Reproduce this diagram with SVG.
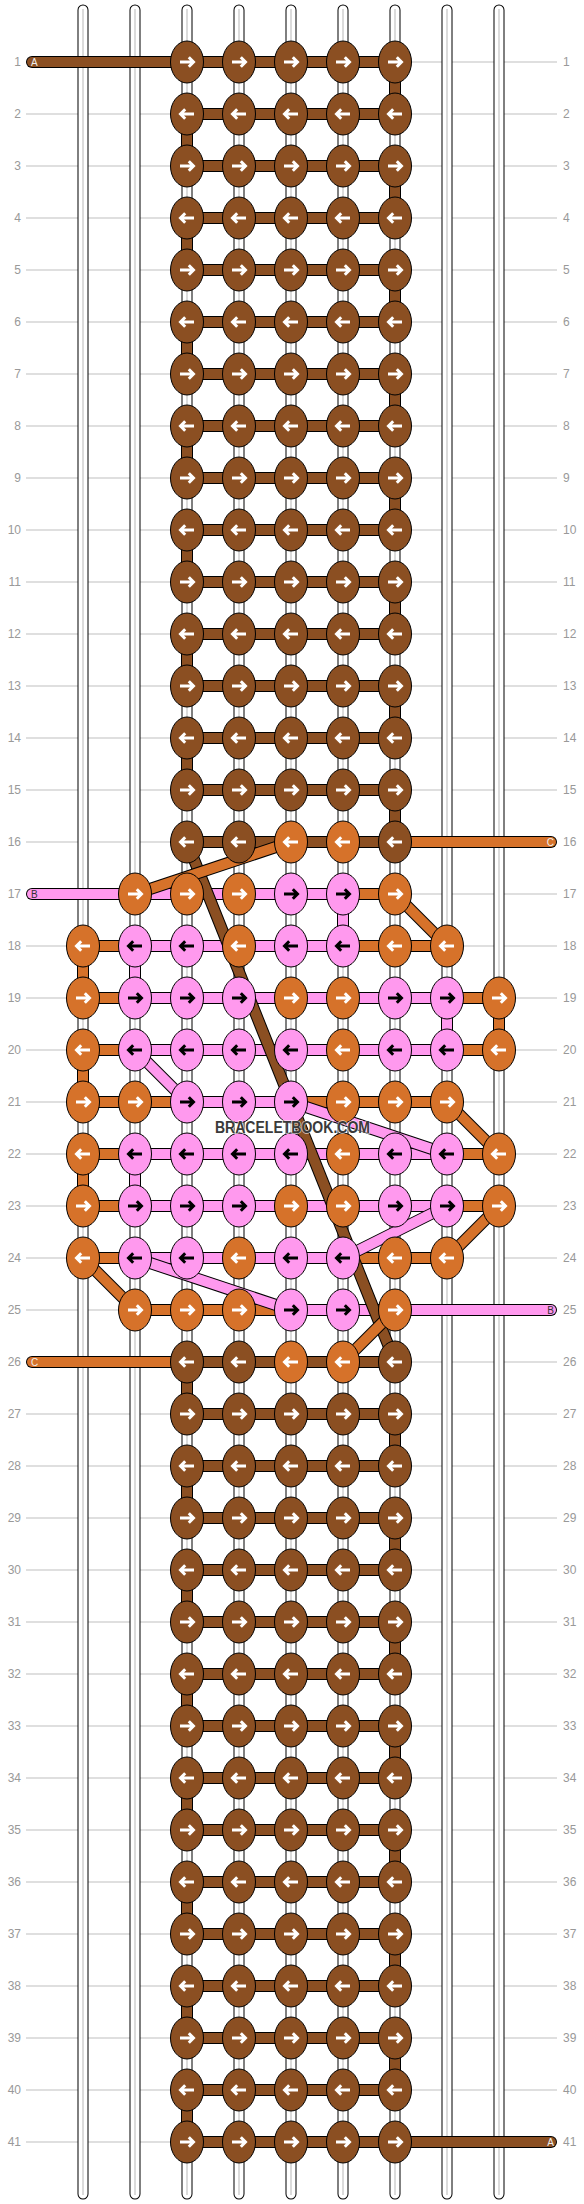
<svg xmlns="http://www.w3.org/2000/svg" width="584" height="2204" viewBox="0 0 584 2204">
<style>
.B{fill:#8b4f22}.O{fill:#d6722a}.P{fill:#ff99ee}
.c{stroke:#000;stroke-width:1}
.aw{fill:none;stroke:#fff;stroke-width:3}
.ak{fill:none;stroke:#000;stroke-width:3}
.num{font-family:"Liberation Sans",Arial,sans-serif;font-size:12px;fill:#999}
.lab{font-family:"Liberation Sans",Arial,sans-serif;font-size:10px}
.ol{fill:none;stroke:#000;stroke-width:12}
.sB{fill:none;stroke:#8b4f22;stroke-width:10}
.sO{fill:none;stroke:#d6722a;stroke-width:10}
.sP{fill:none;stroke:#ff99ee;stroke-width:10}
.rc{stroke-linecap:round}
.t1{fill:none;stroke:#000;stroke-width:11;stroke-linecap:round}
.t2{fill:none;stroke:#fff;stroke-width:9;stroke-linecap:round}
.t3{fill:none;stroke:#c4c4c4;stroke-width:1.2}
.grid{fill:none;stroke:#c0c0c0;stroke-width:1.2}
</style>
<defs>
<path id="ar" d="M-7,0H6.5M1.8,-4.8L6.5,0L1.8,4.8"/>
<path id="al" d="M7,0H-6.5M-1.8,-4.8L-6.5,0L-1.8,4.8"/>
<g id="Br"><ellipse rx="16.5" ry="21" class="B c"/><use href="#ar" class="aw"/></g>
<g id="Bl"><ellipse rx="16.5" ry="21" class="B c"/><use href="#al" class="aw"/></g>
<g id="Or"><ellipse rx="16.5" ry="21" class="O c"/><use href="#ar" class="aw"/></g>
<g id="Ol"><ellipse rx="16.5" ry="21" class="O c"/><use href="#al" class="aw"/></g>
<g id="Pr"><ellipse rx="16.5" ry="21" class="P c"/><use href="#ar" class="ak"/></g>
<g id="Pl"><ellipse rx="16.5" ry="21" class="P c"/><use href="#al" class="ak"/></g>
</defs>
<rect width="584" height="2204" fill="#fff"/>
<g id="gridlines">
<path class="grid" d="M26 62H557M26 114H557M26 166H557M26 218H557M26 270H557M26 322H557M26 374H557M26 426H557M26 478H557M26 530H557M26 582H557M26 634H557M26 686H557M26 738H557M26 790H557M26 842H557M26 894H557M26 946H557M26 998H557M26 1050H557M26 1102H557M26 1154H557M26 1206H557M26 1258H557M26 1310H557M26 1362H557M26 1414H557M26 1466H557M26 1518H557M26 1570H557M26 1622H557M26 1674H557M26 1726H557M26 1778H557M26 1830H557M26 1882H557M26 1934H557M26 1986H557M26 2038H557M26 2090H557M26 2142H557"/>
</g>
<g id="strands">
<path class="t1" d="M83 10V2194M135 10V2194M187 10V2194M239 10V2194M291 10V2194M343 10V2194M395 10V2194M447 10V2194M499 10V2194"/>
<path class="t2" d="M83 10V2194M135 10V2194M187 10V2194M239 10V2194M291 10V2194M343 10V2194M395 10V2194M447 10V2194M499 10V2194"/>
<path class="t3" d="M83 9V2195M135 9V2195M187 9V2195M239 9V2195M291 9V2195M343 9V2195M395 9V2195M447 9V2195M499 9V2195"/>
</g>
<g id="connectors">
<g class="B c">
<rect x="389.5" y="62" width="11" height="52"/><rect x="389.5" y="166" width="11" height="52"/><rect x="389.5" y="270" width="11" height="52"/><rect x="389.5" y="374" width="11" height="52"/><rect x="389.5" y="478" width="11" height="52"/><rect x="389.5" y="582" width="11" height="52"/><rect x="389.5" y="686" width="11" height="52"/><rect x="389.5" y="790" width="11" height="52"/>
<rect x="181.5" y="114" width="11" height="52"/><rect x="181.5" y="218" width="11" height="52"/><rect x="181.5" y="322" width="11" height="52"/><rect x="181.5" y="426" width="11" height="52"/><rect x="181.5" y="530" width="11" height="52"/><rect x="181.5" y="634" width="11" height="52"/><rect x="181.5" y="738" width="11" height="52"/>
<rect x="181.5" y="1362" width="11" height="52"/><rect x="181.5" y="1466" width="11" height="52"/><rect x="181.5" y="1570" width="11" height="52"/><rect x="181.5" y="1674" width="11" height="52"/><rect x="181.5" y="1778" width="11" height="52"/><rect x="181.5" y="1882" width="11" height="52"/><rect x="181.5" y="1986" width="11" height="52"/><rect x="181.5" y="2090" width="11" height="52"/>
<rect x="389.5" y="1414" width="11" height="52"/><rect x="389.5" y="1518" width="11" height="52"/><rect x="389.5" y="1622" width="11" height="52"/><rect x="389.5" y="1726" width="11" height="52"/><rect x="389.5" y="1830" width="11" height="52"/><rect x="389.5" y="1934" width="11" height="52"/><rect x="389.5" y="2038" width="11" height="52"/>
</g>
<g class="P c">
<rect x="337.5" y="894" width="11" height="52"/><rect x="129.5" y="946" width="11" height="52"/><rect x="441.5" y="998" width="11" height="52"/><rect x="129.5" y="1154" width="11" height="52"/>
</g>
<g class="O c">
<rect x="77.5" y="946" width="11" height="52"/><rect x="493.5" y="998" width="11" height="52"/><rect x="77.5" y="1050" width="11" height="52"/><rect x="77.5" y="1154" width="11" height="52"/>
</g>
<g class="B c">
<rect x="187" y="56.5" width="208" height="11"/><rect x="187" y="108.5" width="208" height="11"/><rect x="187" y="160.5" width="208" height="11"/><rect x="187" y="212.5" width="208" height="11"/><rect x="187" y="264.5" width="208" height="11"/><rect x="187" y="316.5" width="208" height="11"/><rect x="187" y="368.5" width="208" height="11"/><rect x="187" y="420.5" width="208" height="11"/><rect x="187" y="472.5" width="208" height="11"/><rect x="187" y="524.5" width="208" height="11"/><rect x="187" y="576.5" width="208" height="11"/><rect x="187" y="628.5" width="208" height="11"/><rect x="187" y="680.5" width="208" height="11"/><rect x="187" y="732.5" width="208" height="11"/><rect x="187" y="784.5" width="208" height="11"/><rect x="187" y="836.5" width="208" height="11"/>
<rect x="187" y="1356.5" width="208" height="11"/><rect x="187" y="1408.5" width="208" height="11"/><rect x="187" y="1460.5" width="208" height="11"/><rect x="187" y="1512.5" width="208" height="11"/><rect x="187" y="1564.5" width="208" height="11"/><rect x="187" y="1616.5" width="208" height="11"/><rect x="187" y="1668.5" width="208" height="11"/><rect x="187" y="1720.5" width="208" height="11"/><rect x="187" y="1772.5" width="208" height="11"/><rect x="187" y="1824.5" width="208" height="11"/><rect x="187" y="1876.5" width="208" height="11"/><rect x="187" y="1928.5" width="208" height="11"/><rect x="187" y="1980.5" width="208" height="11"/><rect x="187" y="2032.5" width="208" height="11"/><rect x="187" y="2084.5" width="208" height="11"/><rect x="187" y="2136.5" width="208" height="11"/>
</g>
<g class="P c">
<rect x="135" y="888.5" width="208" height="11"/>
<rect x="135" y="940.5" width="208" height="11"/>
<rect x="135" y="992.5" width="312" height="11"/>
<rect x="135" y="1044.5" width="312" height="11"/>
<rect x="187" y="1096.5" width="104" height="11"/>
<rect x="135" y="1148.5" width="312" height="11"/>
<rect x="135" y="1200.5" width="312" height="11"/>
<rect x="135" y="1252.5" width="208" height="11"/>
<rect x="291" y="1304.5" width="104" height="11"/>
</g>
<g class="O c">
<rect x="343" y="888.5" width="52" height="11"/>
<rect x="83" y="940.5" width="52" height="11"/><rect x="343" y="940.5" width="104" height="11"/>
<rect x="83" y="992.5" width="52" height="11"/><rect x="447" y="992.5" width="52" height="11"/>
<rect x="83" y="1044.5" width="52" height="11"/><rect x="447" y="1044.5" width="52" height="11"/>
<rect x="83" y="1096.5" width="104" height="11"/><rect x="291" y="1096.5" width="156" height="11"/>
<rect x="83" y="1148.5" width="52" height="11"/><rect x="447" y="1148.5" width="52" height="11"/>
<rect x="83" y="1200.5" width="52" height="11"/><rect x="447" y="1200.5" width="52" height="11"/>
<rect x="83" y="1252.5" width="52" height="11"/><rect x="343" y="1252.5" width="104" height="11"/>
<rect x="135" y="1304.5" width="156" height="11"/>
</g>
<path class="ol rc" d="M32 62H187"/><path class="sB rc" d="M32 62H187"/>
<path class="ol rc" d="M395 2142H551"/><path class="sB rc" d="M395 2142H551"/>
<path class="ol rc" d="M32 894H135"/><path class="sP rc" d="M32 894H135"/>
<path class="ol rc" d="M395 1310H551"/><path class="sP rc" d="M395 1310H551"/>
<path class="ol rc" d="M395 842H551"/><path class="sO rc" d="M395 842H551"/>
<path class="ol rc" d="M32 1362H187"/><path class="sO rc" d="M32 1362H187"/>
<path class="ol" d="M187 842L395 1362"/><path class="sB" d="M187 842L395 1362"/>
<path class="ol" d="M291 842L135 894"/><path class="sO" d="M291 842L135 894"/>
<path class="ol" d="M395 894L447 946"/><path class="sO" d="M395 894L447 946"/>
<path class="ol" d="M135 1050L187 1102"/><path class="sP" d="M135 1050L187 1102"/>
<path class="ol" d="M291 1102L447 1154"/><path class="sP" d="M291 1102L447 1154"/>
<path class="ol" d="M447 1102L499 1154"/><path class="sO" d="M447 1102L499 1154"/>
<path class="ol" d="M447 1206L343 1258"/><path class="sP" d="M447 1206L343 1258"/>
<path class="ol" d="M499 1206L447 1258"/><path class="sO" d="M499 1206L447 1258"/>
<path class="ol" d="M83 1258L135 1310"/><path class="sO" d="M83 1258L135 1310"/>
<path class="ol" d="M135 1258L291 1310"/><path class="sP" d="M135 1258L291 1310"/>
<path class="ol" d="M343 1362L395 1310"/><path class="sO" d="M343 1362L395 1310"/>
</g>
<g id="nodes">
<g id="r1c2"><use href="#Br" x="187" y="62"/></g><g id="r1c3"><use href="#Br" x="239" y="62"/></g><g id="r1c4"><use href="#Br" x="291" y="62"/></g><g id="r1c5"><use href="#Br" x="343" y="62"/></g><g id="r1c6"><use href="#Br" x="395" y="62"/></g>
<g id="r2c2"><use href="#Bl" x="187" y="114"/></g><g id="r2c3"><use href="#Bl" x="239" y="114"/></g><g id="r2c4"><use href="#Bl" x="291" y="114"/></g><g id="r2c5"><use href="#Bl" x="343" y="114"/></g><g id="r2c6"><use href="#Bl" x="395" y="114"/></g>
<g id="r3c2"><use href="#Br" x="187" y="166"/></g><g id="r3c3"><use href="#Br" x="239" y="166"/></g><g id="r3c4"><use href="#Br" x="291" y="166"/></g><g id="r3c5"><use href="#Br" x="343" y="166"/></g><g id="r3c6"><use href="#Br" x="395" y="166"/></g>
<g id="r4c2"><use href="#Bl" x="187" y="218"/></g><g id="r4c3"><use href="#Bl" x="239" y="218"/></g><g id="r4c4"><use href="#Bl" x="291" y="218"/></g><g id="r4c5"><use href="#Bl" x="343" y="218"/></g><g id="r4c6"><use href="#Bl" x="395" y="218"/></g>
<g id="r5c2"><use href="#Br" x="187" y="270"/></g><g id="r5c3"><use href="#Br" x="239" y="270"/></g><g id="r5c4"><use href="#Br" x="291" y="270"/></g><g id="r5c5"><use href="#Br" x="343" y="270"/></g><g id="r5c6"><use href="#Br" x="395" y="270"/></g>
<g id="r6c2"><use href="#Bl" x="187" y="322"/></g><g id="r6c3"><use href="#Bl" x="239" y="322"/></g><g id="r6c4"><use href="#Bl" x="291" y="322"/></g><g id="r6c5"><use href="#Bl" x="343" y="322"/></g><g id="r6c6"><use href="#Bl" x="395" y="322"/></g>
<g id="r7c2"><use href="#Br" x="187" y="374"/></g><g id="r7c3"><use href="#Br" x="239" y="374"/></g><g id="r7c4"><use href="#Br" x="291" y="374"/></g><g id="r7c5"><use href="#Br" x="343" y="374"/></g><g id="r7c6"><use href="#Br" x="395" y="374"/></g>
<g id="r8c2"><use href="#Bl" x="187" y="426"/></g><g id="r8c3"><use href="#Bl" x="239" y="426"/></g><g id="r8c4"><use href="#Bl" x="291" y="426"/></g><g id="r8c5"><use href="#Bl" x="343" y="426"/></g><g id="r8c6"><use href="#Bl" x="395" y="426"/></g>
<g id="r9c2"><use href="#Br" x="187" y="478"/></g><g id="r9c3"><use href="#Br" x="239" y="478"/></g><g id="r9c4"><use href="#Br" x="291" y="478"/></g><g id="r9c5"><use href="#Br" x="343" y="478"/></g><g id="r9c6"><use href="#Br" x="395" y="478"/></g>
<g id="r10c2"><use href="#Bl" x="187" y="530"/></g><g id="r10c3"><use href="#Bl" x="239" y="530"/></g><g id="r10c4"><use href="#Bl" x="291" y="530"/></g><g id="r10c5"><use href="#Bl" x="343" y="530"/></g><g id="r10c6"><use href="#Bl" x="395" y="530"/></g>
<g id="r11c2"><use href="#Br" x="187" y="582"/></g><g id="r11c3"><use href="#Br" x="239" y="582"/></g><g id="r11c4"><use href="#Br" x="291" y="582"/></g><g id="r11c5"><use href="#Br" x="343" y="582"/></g><g id="r11c6"><use href="#Br" x="395" y="582"/></g>
<g id="r12c2"><use href="#Bl" x="187" y="634"/></g><g id="r12c3"><use href="#Bl" x="239" y="634"/></g><g id="r12c4"><use href="#Bl" x="291" y="634"/></g><g id="r12c5"><use href="#Bl" x="343" y="634"/></g><g id="r12c6"><use href="#Bl" x="395" y="634"/></g>
<g id="r13c2"><use href="#Br" x="187" y="686"/></g><g id="r13c3"><use href="#Br" x="239" y="686"/></g><g id="r13c4"><use href="#Br" x="291" y="686"/></g><g id="r13c5"><use href="#Br" x="343" y="686"/></g><g id="r13c6"><use href="#Br" x="395" y="686"/></g>
<g id="r14c2"><use href="#Bl" x="187" y="738"/></g><g id="r14c3"><use href="#Bl" x="239" y="738"/></g><g id="r14c4"><use href="#Bl" x="291" y="738"/></g><g id="r14c5"><use href="#Bl" x="343" y="738"/></g><g id="r14c6"><use href="#Bl" x="395" y="738"/></g>
<g id="r15c2"><use href="#Br" x="187" y="790"/></g><g id="r15c3"><use href="#Br" x="239" y="790"/></g><g id="r15c4"><use href="#Br" x="291" y="790"/></g><g id="r15c5"><use href="#Br" x="343" y="790"/></g><g id="r15c6"><use href="#Br" x="395" y="790"/></g>
<g id="r16c2"><use href="#Bl" x="187" y="842"/></g><g id="r16c3"><use href="#Bl" x="239" y="842"/></g><g id="r16c4"><use href="#Ol" x="291" y="842"/></g><g id="r16c5"><use href="#Ol" x="343" y="842"/></g><g id="r16c6"><use href="#Bl" x="395" y="842"/></g>
<g id="r17c1"><use href="#Or" x="135" y="894"/></g><g id="r17c2"><use href="#Or" x="187" y="894"/></g><g id="r17c3"><use href="#Or" x="239" y="894"/></g><g id="r17c4"><use href="#Pr" x="291" y="894"/></g><g id="r17c5"><use href="#Pr" x="343" y="894"/></g><g id="r17c6"><use href="#Or" x="395" y="894"/></g>
<g id="r18c0"><use href="#Ol" x="83" y="946"/></g><g id="r18c1"><use href="#Pl" x="135" y="946"/></g><g id="r18c2"><use href="#Pl" x="187" y="946"/></g><g id="r18c3"><use href="#Ol" x="239" y="946"/></g><g id="r18c4"><use href="#Pl" x="291" y="946"/></g><g id="r18c5"><use href="#Pl" x="343" y="946"/></g><g id="r18c6"><use href="#Ol" x="395" y="946"/></g><g id="r18c7"><use href="#Ol" x="447" y="946"/></g>
<g id="r19c0"><use href="#Or" x="83" y="998"/></g><g id="r19c1"><use href="#Pr" x="135" y="998"/></g><g id="r19c2"><use href="#Pr" x="187" y="998"/></g><g id="r19c3"><use href="#Pr" x="239" y="998"/></g><g id="r19c4"><use href="#Or" x="291" y="998"/></g><g id="r19c5"><use href="#Or" x="343" y="998"/></g><g id="r19c6"><use href="#Pr" x="395" y="998"/></g><g id="r19c7"><use href="#Pr" x="447" y="998"/></g><g id="r19c8"><use href="#Or" x="499" y="998"/></g>
<g id="r20c0"><use href="#Ol" x="83" y="1050"/></g><g id="r20c1"><use href="#Pl" x="135" y="1050"/></g><g id="r20c2"><use href="#Pl" x="187" y="1050"/></g><g id="r20c3"><use href="#Pl" x="239" y="1050"/></g><g id="r20c4"><use href="#Pl" x="291" y="1050"/></g><g id="r20c5"><use href="#Ol" x="343" y="1050"/></g><g id="r20c6"><use href="#Pl" x="395" y="1050"/></g><g id="r20c7"><use href="#Pl" x="447" y="1050"/></g><g id="r20c8"><use href="#Ol" x="499" y="1050"/></g>
<g id="r21c0"><use href="#Or" x="83" y="1102"/></g><g id="r21c1"><use href="#Or" x="135" y="1102"/></g><g id="r21c2"><use href="#Pr" x="187" y="1102"/></g><g id="r21c3"><use href="#Pr" x="239" y="1102"/></g><g id="r21c4"><use href="#Pr" x="291" y="1102"/></g><g id="r21c5"><use href="#Or" x="343" y="1102"/></g><g id="r21c6"><use href="#Or" x="395" y="1102"/></g><g id="r21c7"><use href="#Or" x="447" y="1102"/></g>
<g id="r22c0"><use href="#Ol" x="83" y="1154"/></g><g id="r22c1"><use href="#Pl" x="135" y="1154"/></g><g id="r22c2"><use href="#Pl" x="187" y="1154"/></g><g id="r22c3"><use href="#Pl" x="239" y="1154"/></g><g id="r22c4"><use href="#Pl" x="291" y="1154"/></g><g id="r22c5"><use href="#Ol" x="343" y="1154"/></g><g id="r22c6"><use href="#Pl" x="395" y="1154"/></g><g id="r22c7"><use href="#Pl" x="447" y="1154"/></g><g id="r22c8"><use href="#Ol" x="499" y="1154"/></g>
<g id="r23c0"><use href="#Or" x="83" y="1206"/></g><g id="r23c1"><use href="#Pr" x="135" y="1206"/></g><g id="r23c2"><use href="#Pr" x="187" y="1206"/></g><g id="r23c3"><use href="#Pr" x="239" y="1206"/></g><g id="r23c4"><use href="#Or" x="291" y="1206"/></g><g id="r23c5"><use href="#Or" x="343" y="1206"/></g><g id="r23c6"><use href="#Pr" x="395" y="1206"/></g><g id="r23c7"><use href="#Pr" x="447" y="1206"/></g><g id="r23c8"><use href="#Or" x="499" y="1206"/></g>
<g id="r24c0"><use href="#Ol" x="83" y="1258"/></g><g id="r24c1"><use href="#Pl" x="135" y="1258"/></g><g id="r24c2"><use href="#Pl" x="187" y="1258"/></g><g id="r24c3"><use href="#Ol" x="239" y="1258"/></g><g id="r24c4"><use href="#Pl" x="291" y="1258"/></g><g id="r24c5"><use href="#Pl" x="343" y="1258"/></g><g id="r24c6"><use href="#Ol" x="395" y="1258"/></g><g id="r24c7"><use href="#Ol" x="447" y="1258"/></g>
<g id="r25c1"><use href="#Or" x="135" y="1310"/></g><g id="r25c2"><use href="#Or" x="187" y="1310"/></g><g id="r25c3"><use href="#Or" x="239" y="1310"/></g><g id="r25c4"><use href="#Pr" x="291" y="1310"/></g><g id="r25c5"><use href="#Pr" x="343" y="1310"/></g><g id="r25c6"><use href="#Or" x="395" y="1310"/></g>
<g id="r26c2"><use href="#Bl" x="187" y="1362"/></g><g id="r26c3"><use href="#Bl" x="239" y="1362"/></g><g id="r26c4"><use href="#Ol" x="291" y="1362"/></g><g id="r26c5"><use href="#Ol" x="343" y="1362"/></g><g id="r26c6"><use href="#Bl" x="395" y="1362"/></g>
<g id="r27c2"><use href="#Br" x="187" y="1414"/></g><g id="r27c3"><use href="#Br" x="239" y="1414"/></g><g id="r27c4"><use href="#Br" x="291" y="1414"/></g><g id="r27c5"><use href="#Br" x="343" y="1414"/></g><g id="r27c6"><use href="#Br" x="395" y="1414"/></g>
<g id="r28c2"><use href="#Bl" x="187" y="1466"/></g><g id="r28c3"><use href="#Bl" x="239" y="1466"/></g><g id="r28c4"><use href="#Bl" x="291" y="1466"/></g><g id="r28c5"><use href="#Bl" x="343" y="1466"/></g><g id="r28c6"><use href="#Bl" x="395" y="1466"/></g>
<g id="r29c2"><use href="#Br" x="187" y="1518"/></g><g id="r29c3"><use href="#Br" x="239" y="1518"/></g><g id="r29c4"><use href="#Br" x="291" y="1518"/></g><g id="r29c5"><use href="#Br" x="343" y="1518"/></g><g id="r29c6"><use href="#Br" x="395" y="1518"/></g>
<g id="r30c2"><use href="#Bl" x="187" y="1570"/></g><g id="r30c3"><use href="#Bl" x="239" y="1570"/></g><g id="r30c4"><use href="#Bl" x="291" y="1570"/></g><g id="r30c5"><use href="#Bl" x="343" y="1570"/></g><g id="r30c6"><use href="#Bl" x="395" y="1570"/></g>
<g id="r31c2"><use href="#Br" x="187" y="1622"/></g><g id="r31c3"><use href="#Br" x="239" y="1622"/></g><g id="r31c4"><use href="#Br" x="291" y="1622"/></g><g id="r31c5"><use href="#Br" x="343" y="1622"/></g><g id="r31c6"><use href="#Br" x="395" y="1622"/></g>
<g id="r32c2"><use href="#Bl" x="187" y="1674"/></g><g id="r32c3"><use href="#Bl" x="239" y="1674"/></g><g id="r32c4"><use href="#Bl" x="291" y="1674"/></g><g id="r32c5"><use href="#Bl" x="343" y="1674"/></g><g id="r32c6"><use href="#Bl" x="395" y="1674"/></g>
<g id="r33c2"><use href="#Br" x="187" y="1726"/></g><g id="r33c3"><use href="#Br" x="239" y="1726"/></g><g id="r33c4"><use href="#Br" x="291" y="1726"/></g><g id="r33c5"><use href="#Br" x="343" y="1726"/></g><g id="r33c6"><use href="#Br" x="395" y="1726"/></g>
<g id="r34c2"><use href="#Bl" x="187" y="1778"/></g><g id="r34c3"><use href="#Bl" x="239" y="1778"/></g><g id="r34c4"><use href="#Bl" x="291" y="1778"/></g><g id="r34c5"><use href="#Bl" x="343" y="1778"/></g><g id="r34c6"><use href="#Bl" x="395" y="1778"/></g>
<g id="r35c2"><use href="#Br" x="187" y="1830"/></g><g id="r35c3"><use href="#Br" x="239" y="1830"/></g><g id="r35c4"><use href="#Br" x="291" y="1830"/></g><g id="r35c5"><use href="#Br" x="343" y="1830"/></g><g id="r35c6"><use href="#Br" x="395" y="1830"/></g>
<g id="r36c2"><use href="#Bl" x="187" y="1882"/></g><g id="r36c3"><use href="#Bl" x="239" y="1882"/></g><g id="r36c4"><use href="#Bl" x="291" y="1882"/></g><g id="r36c5"><use href="#Bl" x="343" y="1882"/></g><g id="r36c6"><use href="#Bl" x="395" y="1882"/></g>
<g id="r37c2"><use href="#Br" x="187" y="1934"/></g><g id="r37c3"><use href="#Br" x="239" y="1934"/></g><g id="r37c4"><use href="#Br" x="291" y="1934"/></g><g id="r37c5"><use href="#Br" x="343" y="1934"/></g><g id="r37c6"><use href="#Br" x="395" y="1934"/></g>
<g id="r38c2"><use href="#Bl" x="187" y="1986"/></g><g id="r38c3"><use href="#Bl" x="239" y="1986"/></g><g id="r38c4"><use href="#Bl" x="291" y="1986"/></g><g id="r38c5"><use href="#Bl" x="343" y="1986"/></g><g id="r38c6"><use href="#Bl" x="395" y="1986"/></g>
<g id="r39c2"><use href="#Br" x="187" y="2038"/></g><g id="r39c3"><use href="#Br" x="239" y="2038"/></g><g id="r39c4"><use href="#Br" x="291" y="2038"/></g><g id="r39c5"><use href="#Br" x="343" y="2038"/></g><g id="r39c6"><use href="#Br" x="395" y="2038"/></g>
<g id="r40c2"><use href="#Bl" x="187" y="2090"/></g><g id="r40c3"><use href="#Bl" x="239" y="2090"/></g><g id="r40c4"><use href="#Bl" x="291" y="2090"/></g><g id="r40c5"><use href="#Bl" x="343" y="2090"/></g><g id="r40c6"><use href="#Bl" x="395" y="2090"/></g>
<g id="r41c2"><use href="#Br" x="187" y="2142"/></g><g id="r41c3"><use href="#Br" x="239" y="2142"/></g><g id="r41c4"><use href="#Br" x="291" y="2142"/></g><g id="r41c5"><use href="#Br" x="343" y="2142"/></g><g id="r41c6"><use href="#Br" x="395" y="2142"/></g>
</g>
<g id="thread-labels" class="lab">
<text x="31" y="65.6" fill="#eee">A</text>
<text x="554" y="2145.6" fill="#eee" text-anchor="end">A</text>
<text x="31" y="897.6" fill="#333">B</text>
<text x="554" y="1313.6" fill="#333" text-anchor="end">B</text>
<text x="554" y="845.6" fill="#eee" text-anchor="end">C</text>
<text x="31" y="1365.6" fill="#eee">C</text>
</g>
<g id="row-numbers" class="num">
<g text-anchor="end">
<text x="21" y="66">1</text><text x="21" y="118">2</text><text x="21" y="170">3</text><text x="21" y="222">4</text><text x="21" y="274">5</text><text x="21" y="326">6</text><text x="21" y="378">7</text><text x="21" y="430">8</text><text x="21" y="482">9</text><text x="21" y="534">10</text><text x="21" y="586">11</text><text x="21" y="638">12</text><text x="21" y="690">13</text><text x="21" y="742">14</text><text x="21" y="794">15</text><text x="21" y="846">16</text><text x="21" y="898">17</text><text x="21" y="950">18</text><text x="21" y="1002">19</text><text x="21" y="1054">20</text><text x="21" y="1106">21</text><text x="21" y="1158">22</text><text x="21" y="1210">23</text><text x="21" y="1262">24</text><text x="21" y="1314">25</text><text x="21" y="1366">26</text><text x="21" y="1418">27</text><text x="21" y="1470">28</text><text x="21" y="1522">29</text><text x="21" y="1574">30</text><text x="21" y="1626">31</text><text x="21" y="1678">32</text><text x="21" y="1730">33</text><text x="21" y="1782">34</text><text x="21" y="1834">35</text><text x="21" y="1886">36</text><text x="21" y="1938">37</text><text x="21" y="1990">38</text><text x="21" y="2042">39</text><text x="21" y="2094">40</text><text x="21" y="2146">41</text>
</g>
<g>
<text x="563" y="66">1</text><text x="563" y="118">2</text><text x="563" y="170">3</text><text x="563" y="222">4</text><text x="563" y="274">5</text><text x="563" y="326">6</text><text x="563" y="378">7</text><text x="563" y="430">8</text><text x="563" y="482">9</text><text x="563" y="534">10</text><text x="563" y="586">11</text><text x="563" y="638">12</text><text x="563" y="690">13</text><text x="563" y="742">14</text><text x="563" y="794">15</text><text x="563" y="846">16</text><text x="563" y="898">17</text><text x="563" y="950">18</text><text x="563" y="1002">19</text><text x="563" y="1054">20</text><text x="563" y="1106">21</text><text x="563" y="1158">22</text><text x="563" y="1210">23</text><text x="563" y="1262">24</text><text x="563" y="1314">25</text><text x="563" y="1366">26</text><text x="563" y="1418">27</text><text x="563" y="1470">28</text><text x="563" y="1522">29</text><text x="563" y="1574">30</text><text x="563" y="1626">31</text><text x="563" y="1678">32</text><text x="563" y="1730">33</text><text x="563" y="1782">34</text><text x="563" y="1834">35</text><text x="563" y="1886">36</text><text x="563" y="1938">37</text><text x="563" y="1990">38</text><text x="563" y="2042">39</text><text x="563" y="2094">40</text><text x="563" y="2146">41</text>
</g>
</g>
<g id="watermark">
<text x="292.5" y="1133" text-anchor="middle" font-family="'Liberation Sans',Arial,sans-serif" font-size="16" font-weight="bold" textLength="155" lengthAdjust="spacingAndGlyphs" fill="#3a3a3a" stroke="#fff" stroke-width="1.5" paint-order="stroke" stroke-opacity="0.7">BRACELETBOOK.COM</text>
</g>
</svg>
